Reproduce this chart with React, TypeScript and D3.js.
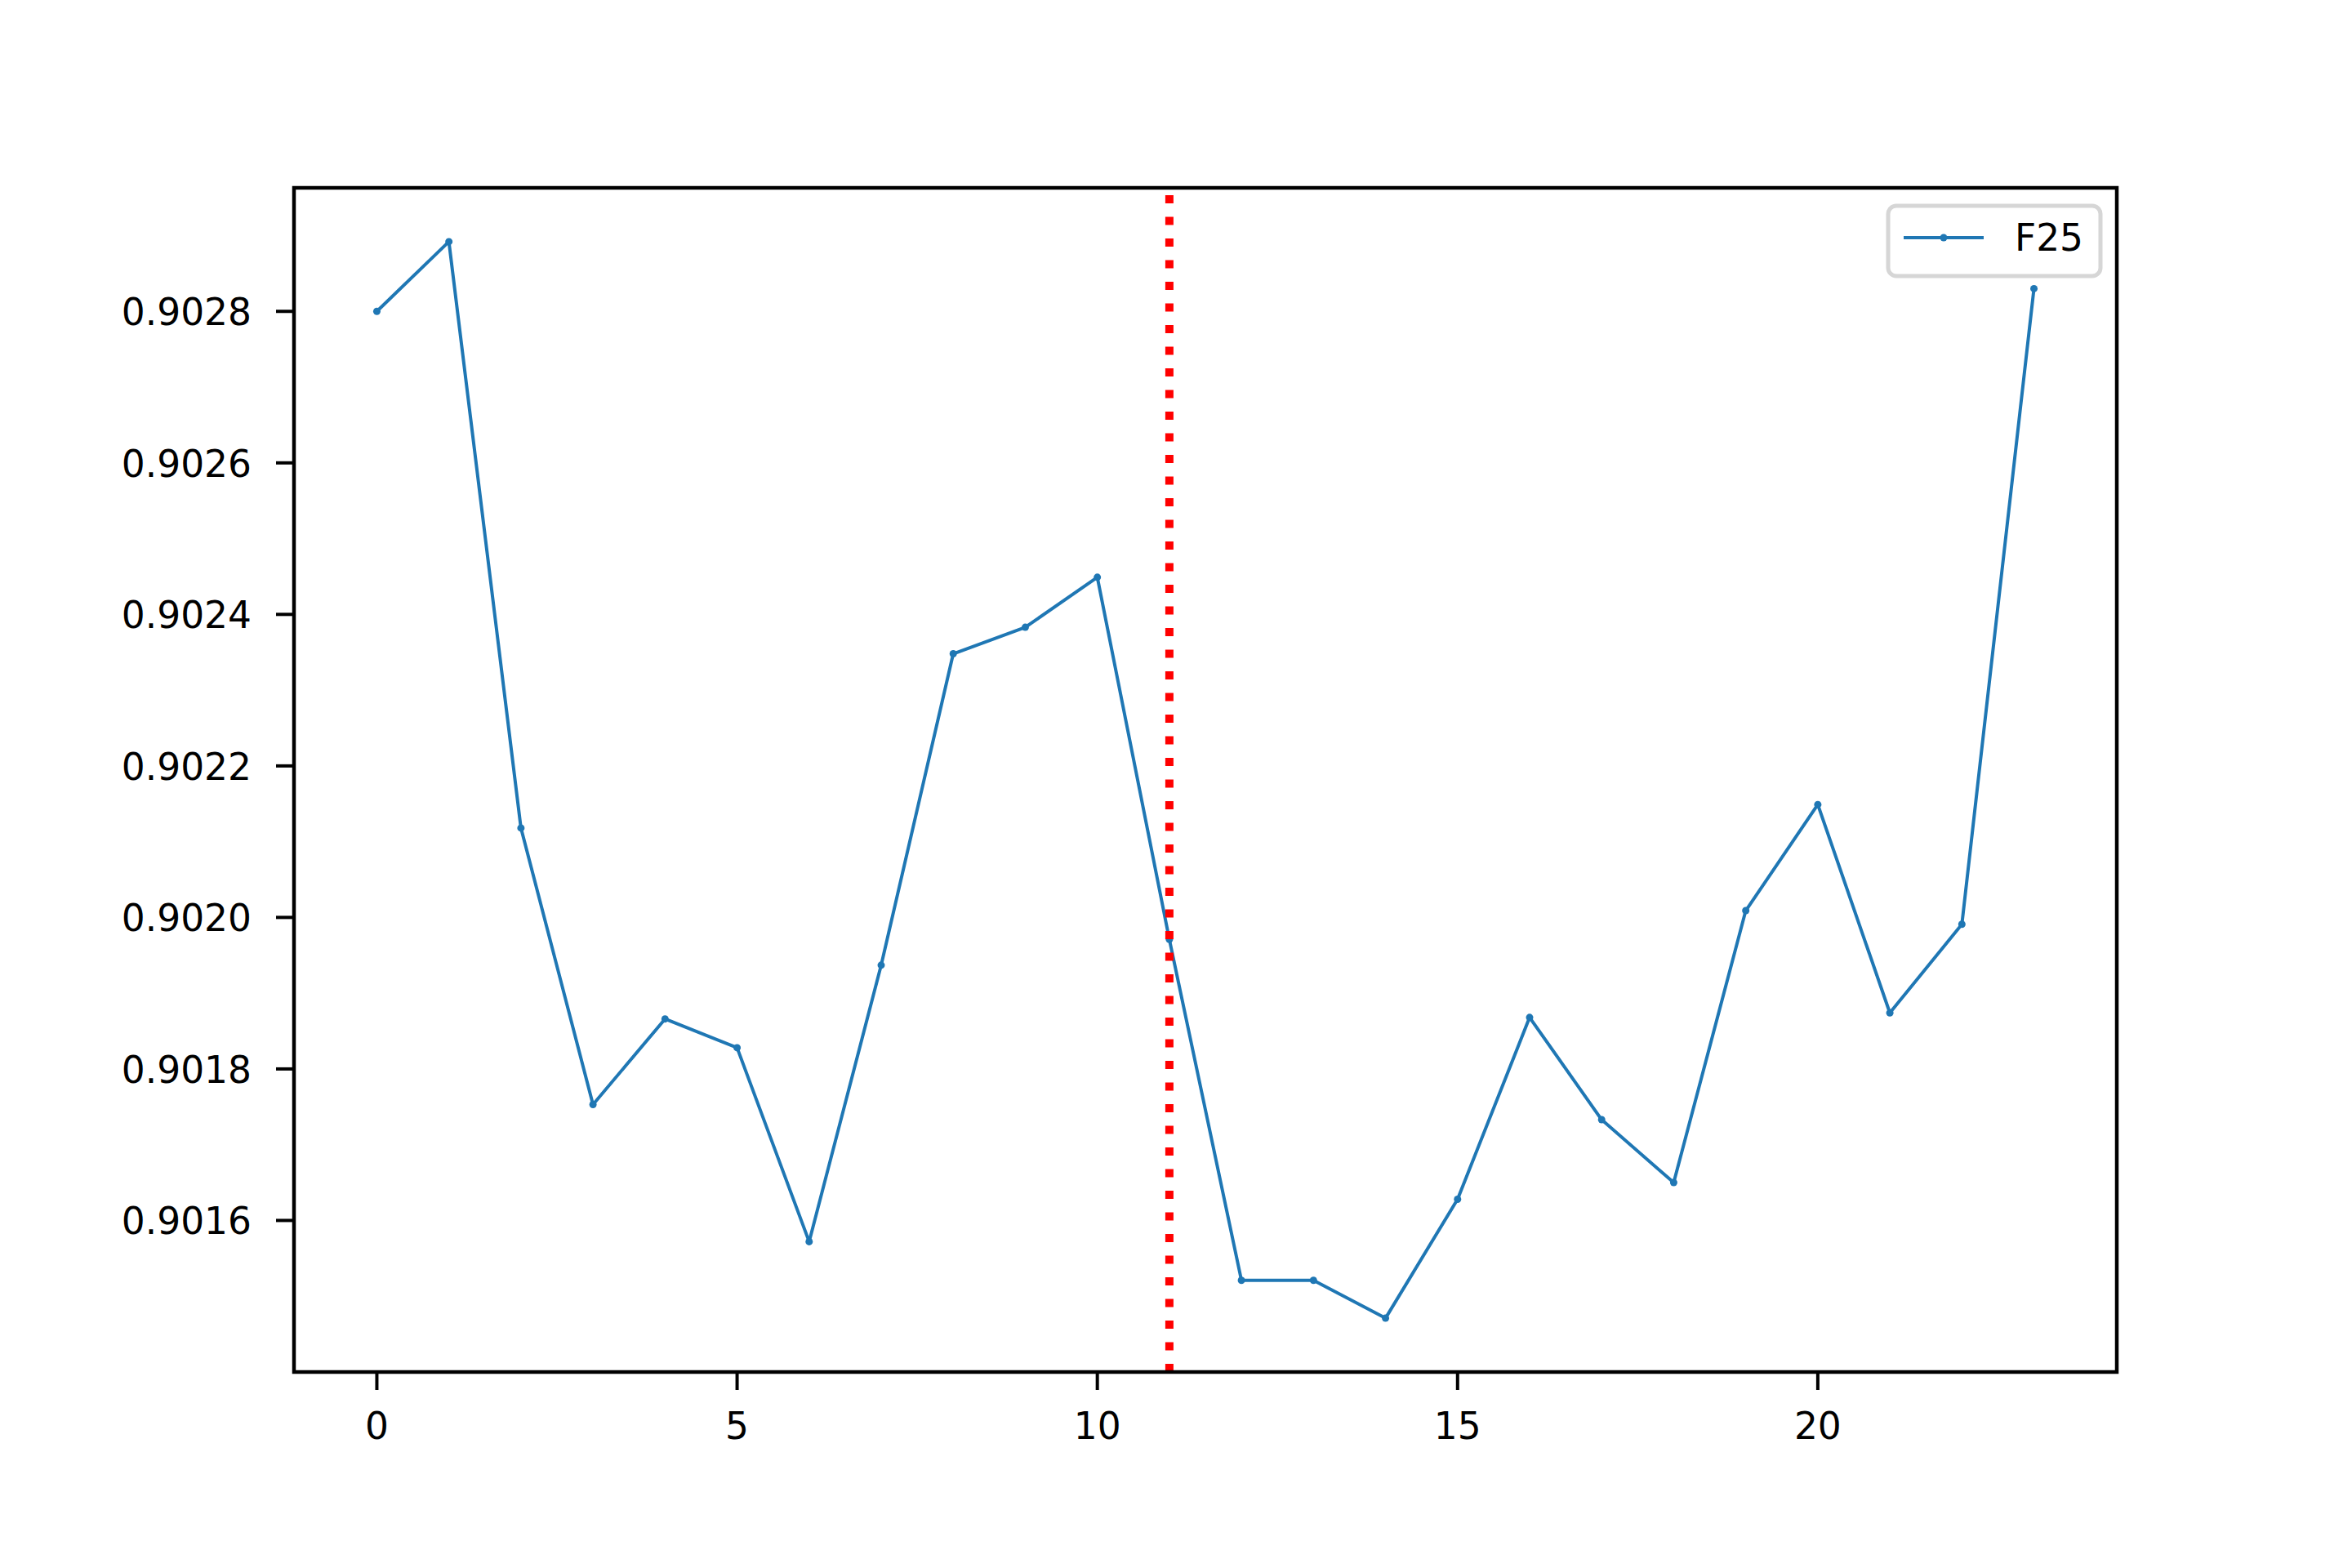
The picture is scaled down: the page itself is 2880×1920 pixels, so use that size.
import React from "react";
import * as d3 from "d3";

const xs: number[] = [0,1,2,3,4,5,6,7,8,9,10,11,12,13,14,15,16,17,18,19,20,21,22,23];
const f25: number[] = [
  0.902800, 0.902892, 0.902118, 0.901753, 0.901866, 0.901828, 0.901572, 0.901937,
  0.902348, 0.902383, 0.902449, 0.901971, 0.901521, 0.901521, 0.901471, 0.901628,
  0.901868, 0.901733, 0.901650, 0.902009, 0.902149, 0.901874, 0.901991, 0.902830,
];
const xTicks: number[] = [0, 5, 10, 15, 20];
const yTicks: number[] = [0.9016, 0.9018, 0.902, 0.9022, 0.9024, 0.9026, 0.9028];
const vLineX = 11;
const seriesName = "F25";

const W = 2880, H = 1920;
const L = 360, R = 2592, T = 230, B = 1680;
const FONT = "DejaVu Sans, sans-serif";
const FS = 45.5;
const BLUE = "#1f77b4";

export default function App() {
  const xMin = d3.min(xs)!, xMax = d3.max(xs)!;
  const xPad = (xMax - xMin) * 0.05;
  const x = d3.scaleLinear().domain([xMin - xPad, xMax + xPad]).range([L, R]);
  const [yLo, yHi] = d3.extent(f25) as [number, number];
  const yPad = (yHi - yLo) * 0.05;
  const y = d3.scaleLinear().domain([yLo - yPad, yHi + yPad]).range([B, T]);
  const line = d3.line<number>().x((_, i) => x(xs[i])).y((d) => y(d));

  return (
    <svg width={W} height={H} style={{ position: "absolute", left: 0, top: 0, background: "#fff" }}
      fontFamily={FONT}>
      <rect x={0} y={0} width={W} height={H} fill="#fff" />
      <path d={line(f25)!} fill="none" stroke={BLUE} strokeWidth={4} strokeLinejoin="round" />
      {f25.map((v, i) => (
        <circle key={i} cx={x(xs[i])} cy={y(v)} r={4.5} fill={BLUE} />
      ))}
      <line x1={x(vLineX)} x2={x(vLineX)} y1={B} y2={T} stroke="red" strokeWidth={10}
        strokeDasharray="10 16.5" />
      {/* frame */}
      <rect x={L} y={T} width={R - L} height={B - T} fill="none" stroke="#000" strokeWidth={4.5} />
      {/* x ticks */}
      {xTicks.map((t) => (
        <g key={"x" + t}>
          <line x1={x(t)} x2={x(t)} y1={B} y2={B + 22} stroke="#000" strokeWidth={4} />
          <text x={x(t)} y={B + 82} fontSize={FS} textAnchor="middle" fill="#000">{d3.format("d")(t)}</text>
        </g>
      ))}
      {/* y ticks */}
      {yTicks.map((t) => (
        <g key={"y" + t}>
          <line x1={L - 22} x2={L} y1={y(t)} y2={y(t)} stroke="#000" strokeWidth={4} />
          <text x={L - 52} y={y(t) + 17} fontSize={FS} textAnchor="end" fill="#000">{d3.format(".4f")(t)}</text>
        </g>
      ))}
      {/* legend */}
      <rect x={2312} y={252} width={260} height={86} rx={10} ry={10} fill="#fff" fillOpacity={0.8}
        stroke="#d6d6d6" strokeWidth={5} />
      <line x1={2331} x2={2429} y1={291} y2={291} stroke={BLUE} strokeWidth={4} />
      <circle cx={2380} cy={291} r={4.5} fill={BLUE} />
      <text x={2467} y={307} fontSize={FS} fill="#000">{seriesName}</text>
    </svg>
  );
}
